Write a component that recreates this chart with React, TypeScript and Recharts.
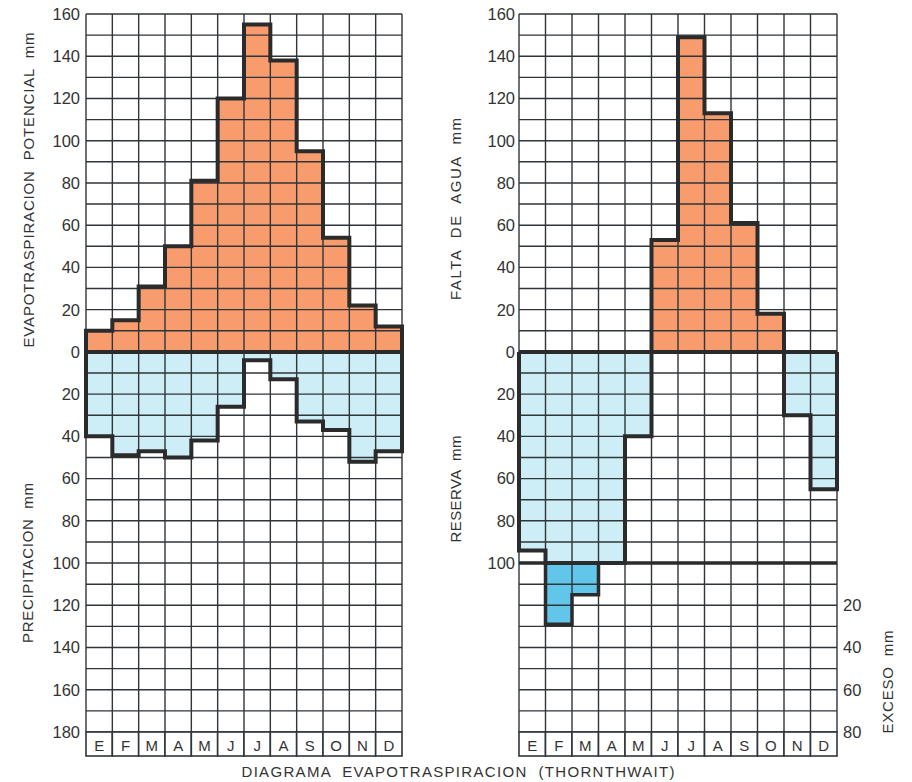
import React from 'react';
import { ComposedChart, Area, Line, XAxis, YAxis, CartesianGrid, ReferenceLine } from 'recharts';

// data (mm)
const months = ['E', 'F', 'M', 'A', 'M', 'J', 'J', 'A', 'S', 'O', 'N', 'D'];
const evapotraspiracion = [10, 15, 31, 50, 81, 120, 155, 138, 95, 54, 22, 12];
const precipitacion = [40, 49, 47, 50, 42, 26, 4, 13, 33, 37, 52, 47];
const faltaAgua = [0, 0, 0, 0, 0, 53, 149, 113, 61, 18, 0, 0];
const reserva = [94, 100, 100, 100, 40, 0, 0, 0, 0, 0, 30, 65];
const exceso = [0, 29, 15, 0, 0, 0, 0, 0, 0, 0, 0, 0];
const reservaMax = 100;

const monthTicks = [0, 1, 2, 3, 4, 5, 6, 7, 8, 9, 10, 11, 12];
const gridTicks = Array.from({ length: 35 }, (_, i) => 160 - i * 10);
const leftLabels = [160, 140, 120, 100, 80, 60, 40, 20, 0, -20, -40, -60, -80, -100, -120, -140, -160, -180];
const rightLabels = [160, 140, 120, 100, 80, 60, 40, 20, 0, -20, -40, -60, -80, -100];
const excesoLabels = [-120, -140, -160, -180];

const INK = '#2b2b2b';
const GRID = '#2f3538';
const ORANGE = '#F89C6E';
const LIGHT_BLUE = '#CDEEF6';
const DARK_BLUE = '#62C5EA';
const FONT = '"Liberation Sans", Arial, sans-serif';

const PLOT_TOP = 14;
const PLOT_BOTTOM = 732;

type Col = { key: string; values: number[]; base: number };

// two rows per month boundary so the step outline can be drawn on a numeric axis
const stepTable = (cols: Col[]) => {
  const rows: Record<string, number>[] = [];
  for (let i = 0; i <= 12; i++) {
    const before: Record<string, number> = { x: i };
    const after: Record<string, number> = { x: i };
    cols.forEach((c) => {
      before[c.key] = i === 0 ? c.base : c.values[i - 1];
      after[c.key] = i === 12 ? c.base : c.values[i];
    });
    rows.push(before, after);
  }
  return rows;
};

const leftData = stepTable([
  { key: 'etp', values: evapotraspiracion, base: 0 },
  { key: 'pre', values: precipitacion.map((v) => -v), base: 0 },
]);

const rightData = stepTable([
  { key: 'falta', values: faltaAgua, base: 0 },
  { key: 'reserva', values: reserva.map((v) => -v), base: 0 },
  { key: 'exceso', values: exceso.map((v) => -(reservaMax + v)), base: -reservaMax },
]);

const MonthTick = (props: any) => {
  const { x, payload, w } = props;
  const i = payload.value;
  if (i >= 12) return <g />;
  return (
    <g>
      <rect x={x} y={PLOT_BOTTOM} width={w} height={24} fill="#fff" stroke={GRID} strokeWidth={1.6} />
      <text x={x + w / 2} y={PLOT_BOTTOM + 13} textAnchor="middle" dominantBaseline="central"
        fontSize={15} fill="#333" fontFamily={FONT}>
        {months[i]}
      </text>
    </g>
  );
};

const tickStyle = { fontSize: 16.5, fill: '#333', fontFamily: FONT };

const Left = () => (
  <ComposedChart width={420} height={782} data={leftData}
    margin={{ top: PLOT_TOP, right: 18, bottom: 0, left: 0 }}>
    <XAxis dataKey="x" type="number" domain={[0, 12]} ticks={monthTicks} interval={0}
      axisLine={false} tickLine={false} height={50}
      tick={(p: any) => <MonthTick {...p} w={316 / 12} />} />
    <YAxis type="number" domain={[-180, 160]} ticks={gridTicks} interval={0} width={86}
      axisLine={false} tickLine={false} tickSize={0} tickMargin={6} tick={tickStyle}
      tickFormatter={(v: number) => (leftLabels.includes(v) ? String(Math.abs(v)) : '')} />
    <Area type="linear" dataKey="etp" stroke="none" fill={ORANGE} fillOpacity={1} isAnimationActive={false} />
    <Area type="linear" dataKey="pre" stroke="none" fill={LIGHT_BLUE} fillOpacity={1} isAnimationActive={false} />
    <CartesianGrid stroke={GRID} strokeWidth={1.4} strokeOpacity={1} {...({ zIndex: 150 } as any)} />
    <ReferenceLine y={0} stroke={INK} strokeWidth={4} />
    <Line type="linear" dataKey="etp" stroke={INK} strokeWidth={4} dot={false} activeDot={false} isAnimationActive={false} />
    <Line type="linear" dataKey="pre" stroke={INK} strokeWidth={4} dot={false} activeDot={false} isAnimationActive={false} />
  </ComposedChart>
);

const Right = () => (
  <ComposedChart width={472} height={782} data={rightData}
    margin={{ top: PLOT_TOP, right: 0, bottom: 0, left: 0 }}>
    <XAxis dataKey="x" type="number" domain={[0, 12]} ticks={monthTicks} interval={0}
      axisLine={false} tickLine={false} height={50}
      tick={(p: any) => <MonthTick {...p} w={318 / 12} />} />
    <YAxis yAxisId="l" type="number" domain={[-180, 160]} ticks={gridTicks} interval={0} width={79}
      axisLine={false} tickLine={false} tickSize={0} tickMargin={4} tick={tickStyle}
      tickFormatter={(v: number) => (rightLabels.includes(v) ? String(Math.abs(v)) : '')} />
    <YAxis yAxisId="r" orientation="right" type="number" domain={[-180, 160]} ticks={excesoLabels} interval={0}
      width={75} axisLine={false} tickLine={false} tickSize={0} tickMargin={6} tick={tickStyle}
      tickFormatter={(v: number) => String(-v - reservaMax)} />
    <Area yAxisId="l" type="linear" dataKey="falta" stroke="none" fill={ORANGE} fillOpacity={1} isAnimationActive={false} />
    <Area yAxisId="l" type="linear" dataKey="reserva" stroke="none" fill={LIGHT_BLUE} fillOpacity={1} isAnimationActive={false} />
    <Area yAxisId="r" type="linear" dataKey="exceso" baseValue={-reservaMax} stroke="none" fill={DARK_BLUE}
      fillOpacity={1} isAnimationActive={false} />
    <CartesianGrid yAxisId="l" stroke={GRID} strokeWidth={1.4} strokeOpacity={1} {...({ zIndex: 150 } as any)} />
    <ReferenceLine yAxisId="l" y={0} stroke={INK} strokeWidth={4} />
    <Line yAxisId="r" type="linear" dataKey="exceso" stroke={INK} strokeWidth={3.5} dot={false} activeDot={false} isAnimationActive={false} />
    <Line yAxisId="l" type="linear" dataKey="falta" stroke={INK} strokeWidth={4} dot={false} activeDot={false} isAnimationActive={false} />
    <Line yAxisId="l" type="linear" dataKey="reserva" stroke={INK} strokeWidth={4} dot={false} activeDot={false} isAnimationActive={false} />
  </ComposedChart>
);

const rotated = (label: string, x: number, y: number, len: number) => (
  <text x={x} y={y} transform={`rotate(-90 ${x} ${y})`} textAnchor="middle" dominantBaseline="central"
    fontSize={15} fill="#333" fontFamily={FONT} textLength={len} lengthAdjust="spacing"
    style={{ whiteSpace: 'pre' }}>
    {label}
  </text>
);

export default function App() {
  return (
    <div style={{ position: 'absolute', left: 0, top: 0, width: 912, height: 782, background: '#fff' }}>
      <div style={{ position: 'absolute', left: 0, top: 0 }}>
        <Left />
      </div>
      <div style={{ position: 'absolute', left: 440, top: 0 }}>
        <Right />
      </div>
      <svg width={912} height={782} style={{ position: 'absolute', left: 0, top: 0, pointerEvents: 'none' }}>
        {rotated('EVAPOTRASPIRACION  POTENCIAL  mm', 28, 190, 315)}
        {rotated('PRECIPITACION  mm', 27, 563, 160)}
        {rotated('FALTA  DE  AGUA  mm', 455, 209, 182)}
        {rotated('RESERVA  mm', 455, 489, 107)}
        {rotated('EXCESO  mm', 887, 682, 103)}
        <text x={458} y={771} textAnchor="middle" dominantBaseline="central" fontSize={15} fill="#333"
          fontFamily={FONT} textLength={433} lengthAdjust="spacing" style={{ whiteSpace: 'pre' }}>
          DIAGRAMA  EVAPOTRASPIRACION  (THORNTHWAIT)
        </text>
      </svg>
    </div>
  );
}
